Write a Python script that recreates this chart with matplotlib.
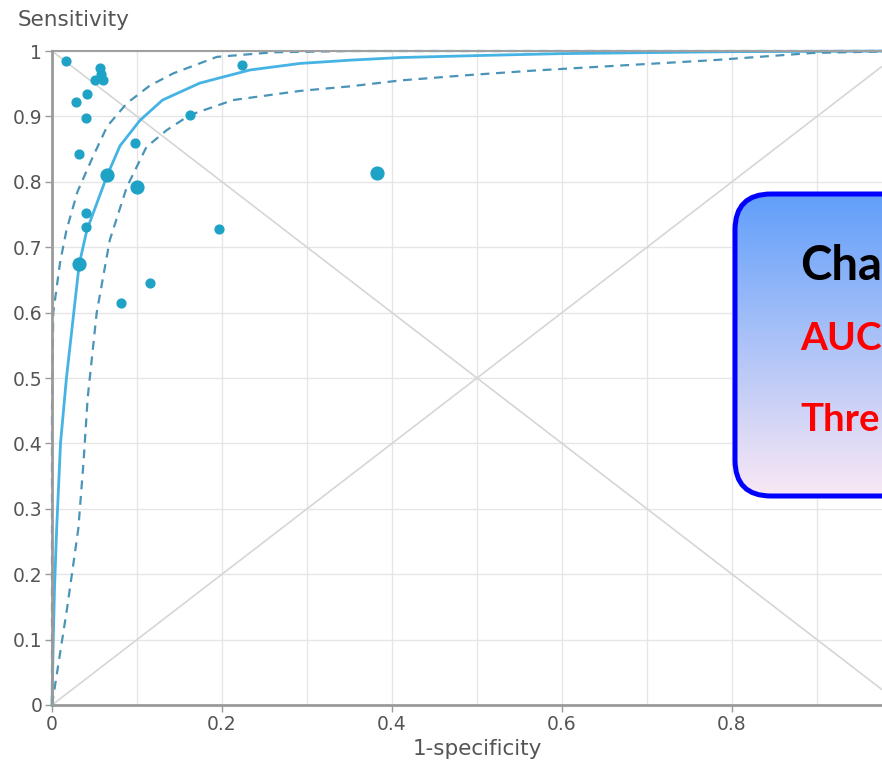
import matplotlib
matplotlib.use("Agg")
import matplotlib.pyplot as plt
from matplotlib.patches import FancyBboxPatch
import numpy as np

# study estimates (1-specificity, sensitivity)
fpr_pts = [0.017, 0.0565, 0.060, 0.051, 0.058, 0.028, 0.041, 0.040, 0.032,
           0.098, 0.162, 0.223, 0.197, 0.040, 0.040, 0.081, 0.115]
sens_pts = [0.984, 0.974, 0.956, 0.956, 0.965, 0.922, 0.934, 0.897, 0.842,
            0.859, 0.902, 0.978, 0.728, 0.752, 0.731, 0.615, 0.646]
# larger studies
fpr_big = [0.065, 0.0996, 0.032, 0.382]
sens_big = [0.810, 0.792, 0.674, 0.813]

# summary ROC curve
sroc_x = [0, 0.0015, 0.003, 0.0055, 0.010, 0.017, 0.032, 0.041, 0.065, 0.080,
          0.1035, 0.13, 0.174, 0.233, 0.292, 0.351, 0.41, 0.5, 0.6, 0.8, 1.0]
sroc_y = [0, 0.10, 0.18, 0.27, 0.40, 0.50, 0.674, 0.726, 0.810, 0.855,
          0.894, 0.925, 0.951, 0.971, 0.981, 0.986, 0.990, 0.993, 0.996, 0.999, 1.0]
# confidence bounds
upper_x = [0, 0, 0.0015, 0.0094, 0.017, 0.030, 0.048, 0.065, 0.088, 0.115,
           0.143, 0.194, 0.26, 0.35, 1.0]
upper_y = [0, 0.45, 0.60, 0.676, 0.726, 0.785, 0.838, 0.885, 0.920, 0.947,
           0.966, 0.991, 0.998, 1.0, 1.0]
lower_x = [0, 0.018, 0.031, 0.037, 0.042, 0.0526, 0.068, 0.088, 0.111, 0.135,
           0.162, 0.213, 0.292, 0.351, 0.41, 0.488, 0.566, 0.645, 0.778, 0.895, 1.0]
lower_y = [0, 0.15, 0.27, 0.37, 0.47, 0.60, 0.711, 0.792, 0.853, 0.879,
           0.902, 0.925, 0.939, 0.946, 0.955, 0.963, 0.970, 0.976, 0.986, 0.997, 1.0]

xticks = [0, 0.2, 0.4, 0.6, 0.8]
xtick_labels = ["0", "0.2", "0.4", "0.6", "0.8"]
yticks = [0, 0.1, 0.2, 0.3, 0.4, 0.5, 0.6, 0.7, 0.8, 0.9, 1.0]
ytick_labels = ["0", "0.1", "0.2", "0.3", "0.4", "0.5", "0.6", "0.7", "0.8", "0.9", "1"]

# lines in the summary box
box_lines = ["Cha", "AUC", "Thre"]

plt.rcParams['font.family'] = ['DejaVu Sans']

fig = plt.figure(figsize=(8.82, 7.7), dpi=100)
ax = fig.add_axes([52/882, 65/770, 850/882, 654/770])
ax.set_xlim(0, 1)
ax.set_ylim(0, 1)

# grid and reference diagonals
ax.set_xticks(np.arange(0, 1.01, 0.1), minor=True)
ax.grid(True, which='both', color='#e6e6e6', lw=1)
ax.set_axisbelow(True)
ax.plot([0, 1], [0, 1], color='#d6d6d6', lw=1.2)
ax.plot([0, 1], [1, 0], color='#d6d6d6', lw=1.2)

ax.plot(sroc_x, sroc_y, color='#45b3e3', lw=2, clip_on=False, solid_joinstyle='round')
ax.plot(upper_x, upper_y, color='#4a94b8', lw=1.6, ls=(0, (4, 3)), clip_on=False)
ax.plot(lower_x, lower_y, color='#4a94b8', lw=1.6, ls=(0, (4, 3)), clip_on=False)

ax.scatter(fpr_pts, sens_pts, s=40, color='#1ea2c6', zorder=5, clip_on=False)
ax.scatter(fpr_big, sens_big, s=85, color='#1ea2c6', zorder=5, clip_on=False)

for side in ['top', 'right']:
    ax.spines[side].set_visible(False)
for side in ['left', 'bottom']:
    ax.spines[side].set_color('#9a9a9a')
    ax.spines[side].set_linewidth(2)
ax.axhline(1, color='#a0a0a0', lw=1.5, clip_on=False)

ax.set_xticks(xticks)
ax.set_xticklabels(xtick_labels)
ax.set_yticks(yticks)
ax.set_yticklabels(ytick_labels)
ax.tick_params(which='major', length=5, width=1, color='#9a9a9a',
               labelsize=13.5, labelcolor='#555555', pad=2)
ax.tick_params(which='minor', length=0)
ax.set_xlabel('1-specificity', fontsize=15.5, color='#555555', labelpad=4)
fig.text(18/882, 1 - 20/770, 'Sensitivity', fontsize=15.5, color='#555555',
         ha='left', va='center')

# summary box with gradient fill, running off the right edge
bx = fig.add_axes([0, 0, 1, 1], zorder=10)
bx.set_xlim(0, 882)
bx.set_ylim(770, 0)
bx.axis('off')
box = FancyBboxPatch((735, 194), 300, 302, boxstyle='round,pad=0,rounding_size=36',
                     facecolor='none', edgecolor='#0000ff', lw=3.6, zorder=3)
grad = np.linspace(0, 1, 256).reshape(-1, 1)
top_c = np.array([0.38, 0.62, 0.98])
bot_c = np.array([0.98, 0.91, 0.96])
img = top_c + grad[..., None] * (bot_c - top_c)
im = bx.imshow(img, extent=[735, 1035, 496, 194], aspect='auto', zorder=2)
bx.add_patch(box)
im.set_clip_path(box)
bx.text(800, 266, box_lines[0], fontsize=34, fontweight='bold', color='black',
        family=['Lato', 'DejaVu Sans'], va='center', ha='left')
bx.text(800, 338, box_lines[1], fontsize=28, fontweight='bold', color='#ff0000',
        family=['Lato', 'DejaVu Sans'], va='center', ha='left')
bx.text(800, 420, box_lines[2], fontsize=27.5, fontweight='bold', color='#ff0000',
        family=['Lato', 'DejaVu Sans'], va='center', ha='left')

fig.savefig('out.png', dpi=100)
